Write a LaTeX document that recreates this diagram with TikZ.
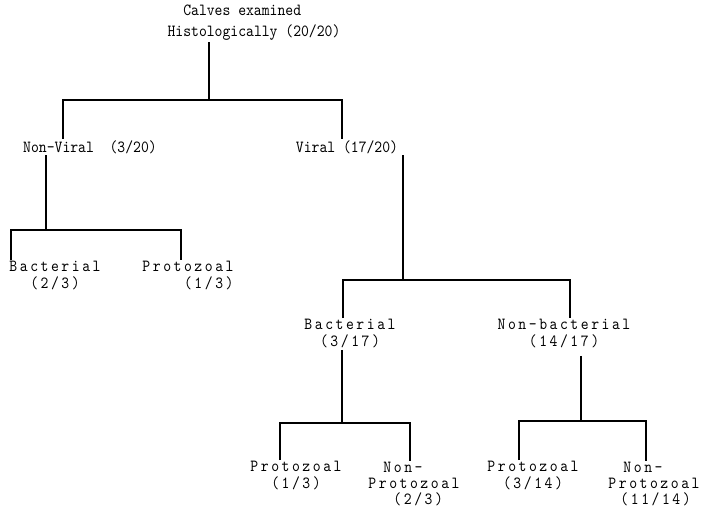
\documentclass[tikz,border=0pt]{standalone}
\usepackage{fontspec}
\newfontfamily\typett[FakeStretch=0.88]{lmmono10-regular.otf}
\newfontfamily\widett[FakeStretch=0.88,LetterSpace=15]{lmmono10-regular.otf}
\usepackage{tikz}

\begin{document}
\begin{tikzpicture}[x=1pt,y=-1pt,line width=1.1pt,
  font=\fontsize{17}{17}\typett,
  lbl/.style={inner sep=1pt,align=center},
  wlbl/.style={lbl,font=\fontsize{17}{17}\widett}]
\useasboundingbox (0,0) rectangle (701,511);
% labels
\node[lbl,align=left,font=\fontsize{17}{21}\typett] (root) at (254,23) {~~Calves examined\\Histologically (20/20)};
\node[lbl] (nonviral) at (90,147) {Non-Viral~~(3/20)};
\node[lbl] (viral) at (347,147) {Viral (17/20)};
\node[wlbl] (bac1) at (55,276) {Bacterial\\(2/3)};
\node[wlbl,align=right] (pro1) at (188,276) {Protozoal\\(1/3)};
\node[wlbl] (bac2) at (350,334) {Bacterial\\(3/17)};
\node[wlbl] (nonbac) at (564,334) {Non-bacterial\\(14/17)};
\node[wlbl] (pro2) at (296,476) {Protozoal\\(1/3)};
\node[wlbl,align=left,font=\fontsize{17}{16}\widett] (nonpro2) at (414,484) {\hspace{15pt}Non-\\Protozoal\\\hspace{25pt}(2/3)};
\node[wlbl] (pro3) at (533,476) {Protozoal\\(3/14)};
\node[wlbl,align=left,font=\fontsize{17}{16}\widett] (nonpro3) at (654,484) {\hspace{15pt}Non-\\Protozoal\\\hspace{12pt}(11/14)};
% branch points
\coordinate (s0) at (209,100);
\coordinate (s1) at (46,230);
\coordinate (s2) at (403,280);
\coordinate (s3) at (342,423);
\coordinate (s4) at (581,421);
% connectors
\draw (root.south -| s0) -- (s0);
\draw ([xshift=-27pt]nonviral.north) |- (s0) -| ([xshift=-5pt]viral.north);
\draw (nonviral.south -| s1) -- (s1);
\draw ([xshift=-44pt]bac1.north) |- (s1) -| ([xshift=-7pt]pro1.north);
\draw (viral.south -| s2) -- (s2);
\draw ([xshift=-7pt]bac2.north) |- (s2) -| ([xshift=6pt]nonbac.north);
\draw (bac2.south -| s3) -- (s3);
\draw ([xshift=-16pt]pro2.north) |- (s3) -| ([xshift=-4pt]nonpro2.north);
\draw ([yshift=-6pt]nonbac.south -| s4) -- (s4);
\draw ([xshift=-14pt]pro3.north) |- (s4) -| ([xshift=-8pt]nonpro3.north);
\end{tikzpicture}
\end{document}
